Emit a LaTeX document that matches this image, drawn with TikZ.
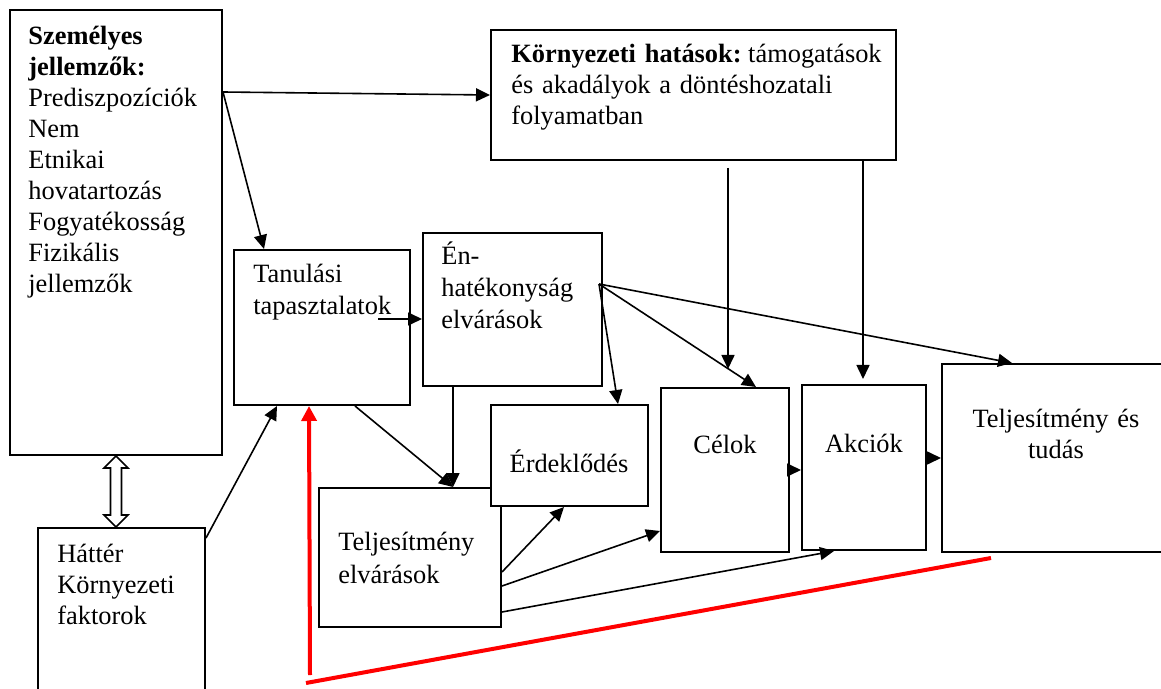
\documentclass[tikz,border=0pt]{standalone}
\usepackage{fontspec}
\setmainfont{Liberation Serif}
\usetikzlibrary{arrows.meta,calc,fit}

\begin{document}
\begin{tikzpicture}[x=0.5pt, y=-0.5pt, line join=miter,
    >={Triangle[length=7pt,width=6.5pt]},
    doboz/.style={draw, line width=1pt, inner sep=0pt, fill=white},
    szoveg/.style={inner sep=0pt, anchor=base west, align=left, text width=110pt,
        font=\fontsize{13.2}{15.5}\selectfont},
    kozep/.style={inner sep=0pt, anchor=base, align=center, text width=110pt,
        font=\fontsize{13.2}{15.2}\selectfont},
    nyil/.style={->, line width=0.8pt},
    piros/.style={red, line width=2pt, >={Triangle[length=7.5pt,width=7.5pt]}}]
    \clip (0,0) rectangle (1161,689);

    % dobozok
    \node[doboz, fit={(10,10) (222,455)}] (sz) {};
    \node[doboz, fit={(491,30) (896,160)}] (env) {};
    \node[doboz, fit={(234,250) (410,405)}] (tan) {};
    \node[doboz, fit={(423,233) (602,386)}] (en) {};
    \node[doboz, fit={(319,488) (501,627)}] (telv) {};
    \node[doboz, fit={(491,405) (648,506)}] (erd) {};  % a telv doboz fölé kerül
    \node[doboz, fit={(661,388) (789,552)}] (cel) {};
    \node[doboz, fit={(802,385) (926,550)}] (akc) {};
    \node[doboz, fit={(942,364) (1180,552)}] (tt) {};
    \node[doboz, fit={(37.5,528) (205,700)}] (hat) {};

    % szovegek
    \node[szoveg] (sz-t) at (28,45) {\textbf{Személyes}\\\textbf{jellemzők:}\\Prediszpozíciók\\Nem\\Etnikai\\hovatartozás\\Fogyatékosság\\Fizikális\\jellemzők};
    \node[szoveg, text width=200pt] (env-t) at (511,63) {\textbf{Környezeti hatások:}\hspace{0.25em}támogatások\\és akadályok a döntéshozatali\\folyamatban};
    \node[szoveg, font=\fontsize{13.2}{16}\selectfont] (tan-t) at (253,283) {Tanulási\\tapasztalatok};
    \node[szoveg, font=\fontsize{13.2}{15.8}\selectfont] (en-t) at (441,265) {Én-\\hatékonyság\\elvárások};
    \node[szoveg, font=\fontsize{13.2}{16.5}\selectfont] (telv-t) at (338,550) {Teljesítmény\\elvárások};
    \node[szoveg] (hat-t) at (57,562) {Háttér\\Környezeti\\faktorok};
    \node[kozep] (erd-t) at (569,472) {Érdeklődés};
    \node[kozep] (cel-t) at (725,453) {Célok};
    \node[kozep] (akc-t) at (864,452) {Akciók};
    \node[kozep] (tt-t) at (1056,428) {Teljesítmény és\\tudás};

    % 1. szemelyes jellemzok -> kornyezet, tanulas
    \coordinate (szk) at ($(sz.north east)+(0,83)$);
    \draw[nyil] (szk) -- (env.west);
    \draw[nyil] (szk) -- ($(tan.north west)+(31,0)$);

    % 2. kettos nyil a hatter fele
    \coordinate (k) at ($(sz.south)!0.5!(sz.south |- hat.north)$);
    \draw[line width=0.8pt, fill=white] ($(k)+(0,-35.5)$) -- ++(12,12) -- ++(-6.5,0) -- ++(0,47)
        -- ++(6.5,0) -- ++(-12,12) -- ++(-12,-12) -- ++(6.5,0) -- ++(0,-47) -- ++(-6.5,0) -- cycle;
    \draw[nyil] ($(hat.north east)+(0,11)$) -- ($(tan.south west)+(44,0)$);

    % 3. tanulas -> en-hatekonysag, teljesitmeny elvarasok
    \coordinate (tk) at (378,319);
    \draw[nyil] (tk) -- (tk -| en.west);
    \coordinate (tv) at ($(telv.north west)+(135,0)$);
    \draw[nyil] ($(tan.south west)+(122,0)$) -- (tv);
    \draw[nyil] (tv |- en.south) -- (tv);

    % 4. en-hatekonysag legyezo
    \coordinate (fan) at (599,284);
    \draw[nyil] (fan) -- ($(erd.north west)+(128,0)$);
    \draw[nyil] (fan) -- ($(cel.north west)+(96,0)$);
    \draw[nyil] (fan) -- ($(tt.north west)+(71,0)$);

    % 5. kornyezeti hatasok lefele
    \draw[nyil, shorten <=3.5pt, shorten >=9pt] ($(env.south west)+(238,0)$) -- ($(cel.north west)+(68,0)$);
    \draw[nyil, shorten >=2.5pt] ($(env.south west)+(373,0)$) -- ($(akc.north west)+(62,0)$);

    % 6. celok -> akciok -> teljesitmeny
    \draw[nyil] (cel.east) -- (cel.east -| akc.west);
    \draw[nyil] (akc.east |- tt.west) -- (tt.west);

    % 7. teljesitmeny elvarasok kimenetei
    \draw[nyil] ($(telv.north east)+(0,85)$) -- ($(erd.south west)+(74,0)$);
    \draw[nyil] ($(telv.north east)+(0,99)$) -- ($(cel.south west)+(0,-22)$);
    \draw[nyil] ($(telv.north east)+(0,125)$) -- ($(akc.south west)+(33,0)$);

    % 8. piros visszacsatolas
    \coordinate (p1) at (310,675);
    \coordinate (p2) at (306,683);
    \coordinate (p3) at (991,558);
    \draw[piros, ->] (p1) -- ($(tan.south west)+(76,0)$);
    \draw[piros] (p2) -- (p3);
\end{tikzpicture}
\end{document}
